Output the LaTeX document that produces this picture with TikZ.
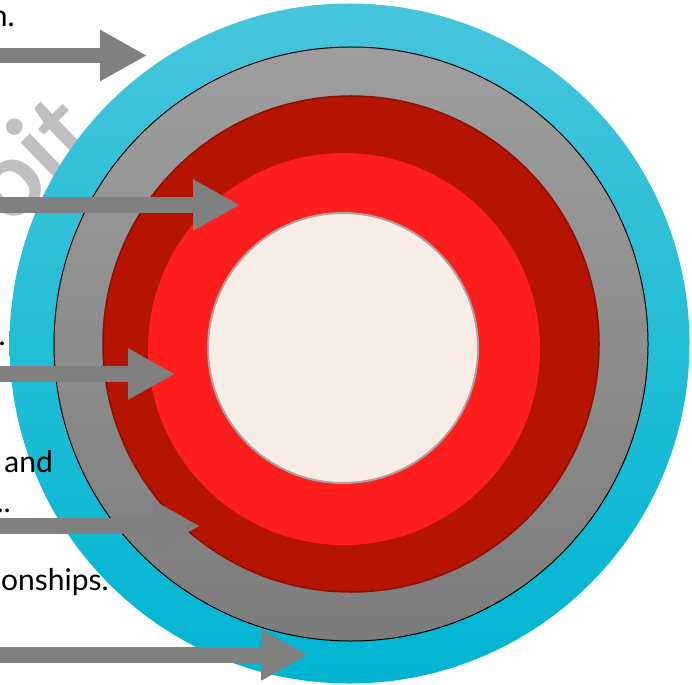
\documentclass[tikz,border=0pt]{standalone}
\usepackage{fontspec}
\setmainfont{Lato}
\usetikzlibrary{arrows.meta}
\definecolor{cyanT}{HTML}{46C5DB}
\definecolor{cyanB}{HTML}{00B5D2}
\definecolor{grayT}{HTML}{9E9E9E}
\definecolor{grayB}{HTML}{7C7C7C}
\definecolor{ringred}{HTML}{B51400}
\definecolor{ringredline}{HTML}{8E0E00}
\definecolor{brightred}{HTML}{FF1E1E}
\definecolor{core}{HTML}{F8ECE7}
\definecolor{coreline}{HTML}{ABA39F}
\definecolor{arrowgray}{HTML}{808080}
\definecolor{wm}{HTML}{C0C0C0}
\begin{document}
\begin{tikzpicture}[x=1pt,y=-1pt,
  blockarrow/.style={draw=arrowgray, line width=15.5pt, -{Triangle[length=47pt,width=48pt]}},
  lbl/.style={anchor=base east, inner sep=0pt, font=\fontsize{30}{36}\selectfont, text=black}]
\useasboundingbox (0,0) rectangle (692,684);
\clip (0,0) rectangle (692,684);
% watermark (partly hidden by the circles)
\node[text=wm, font=\fontsize{105}{110}\selectfont\bfseries, rotate=44, inner sep=0pt] (wmark) at (29,157) {oit};
% rings
\coordinate (cOut) at (349.5,343.5);
\coordinate (cGray) at (351,344);
\coordinate (cRed) at (351,344);
\coordinate (cBright) at (344,349);
\coordinate (cCore) at (343,348);
\shade[top color=cyanT, bottom color=cyanB] (cOut) circle[radius=340];
\shade[top color=grayT, bottom color=grayB, draw=black, line width=1pt] (cGray) circle[radius=297];
\fill[ringred, draw=ringredline, line width=1.5pt] (cRed) circle[radius=248];
\fill[brightred] (cBright) circle[radius=196];
\fill[core, draw=coreline, line width=2pt] (cCore) circle[radius=135];
% arrows
\coordinate (a1s) at (-5,55.5);  \coordinate (a1e) at (147,55.5);
\coordinate (a2s) at (-5,205);   \coordinate (a2e) at (240,205);
\coordinate (a3s) at (-5,374);   \coordinate (a3e) at (175,374);
\coordinate (a4s) at (-5,526);   \coordinate (a4e) at (200,526);
\coordinate (a5s) at (-5,655);   \coordinate (a5e) at (308,655);
\draw[blockarrow] (a1s) -- (a1e);
\draw[blockarrow] (a2s) -- (a2e);
\draw[blockarrow] (a3s) -- (a3e);
\draw[blockarrow] (a4s) -- (a4e);
\draw[blockarrow] (a5s) -- (a5e);
% clipped labels
\node[lbl] (t1) at (15,27) {n.};
\node[lbl] (t2) at (6,345) {.};
\node[lbl] (t3) at (53,472) {and};
\node[lbl] (t4) at (11,512) {..};
\node[lbl] (t5) at (109,590) {onships.};
\end{tikzpicture}
\end{document}
